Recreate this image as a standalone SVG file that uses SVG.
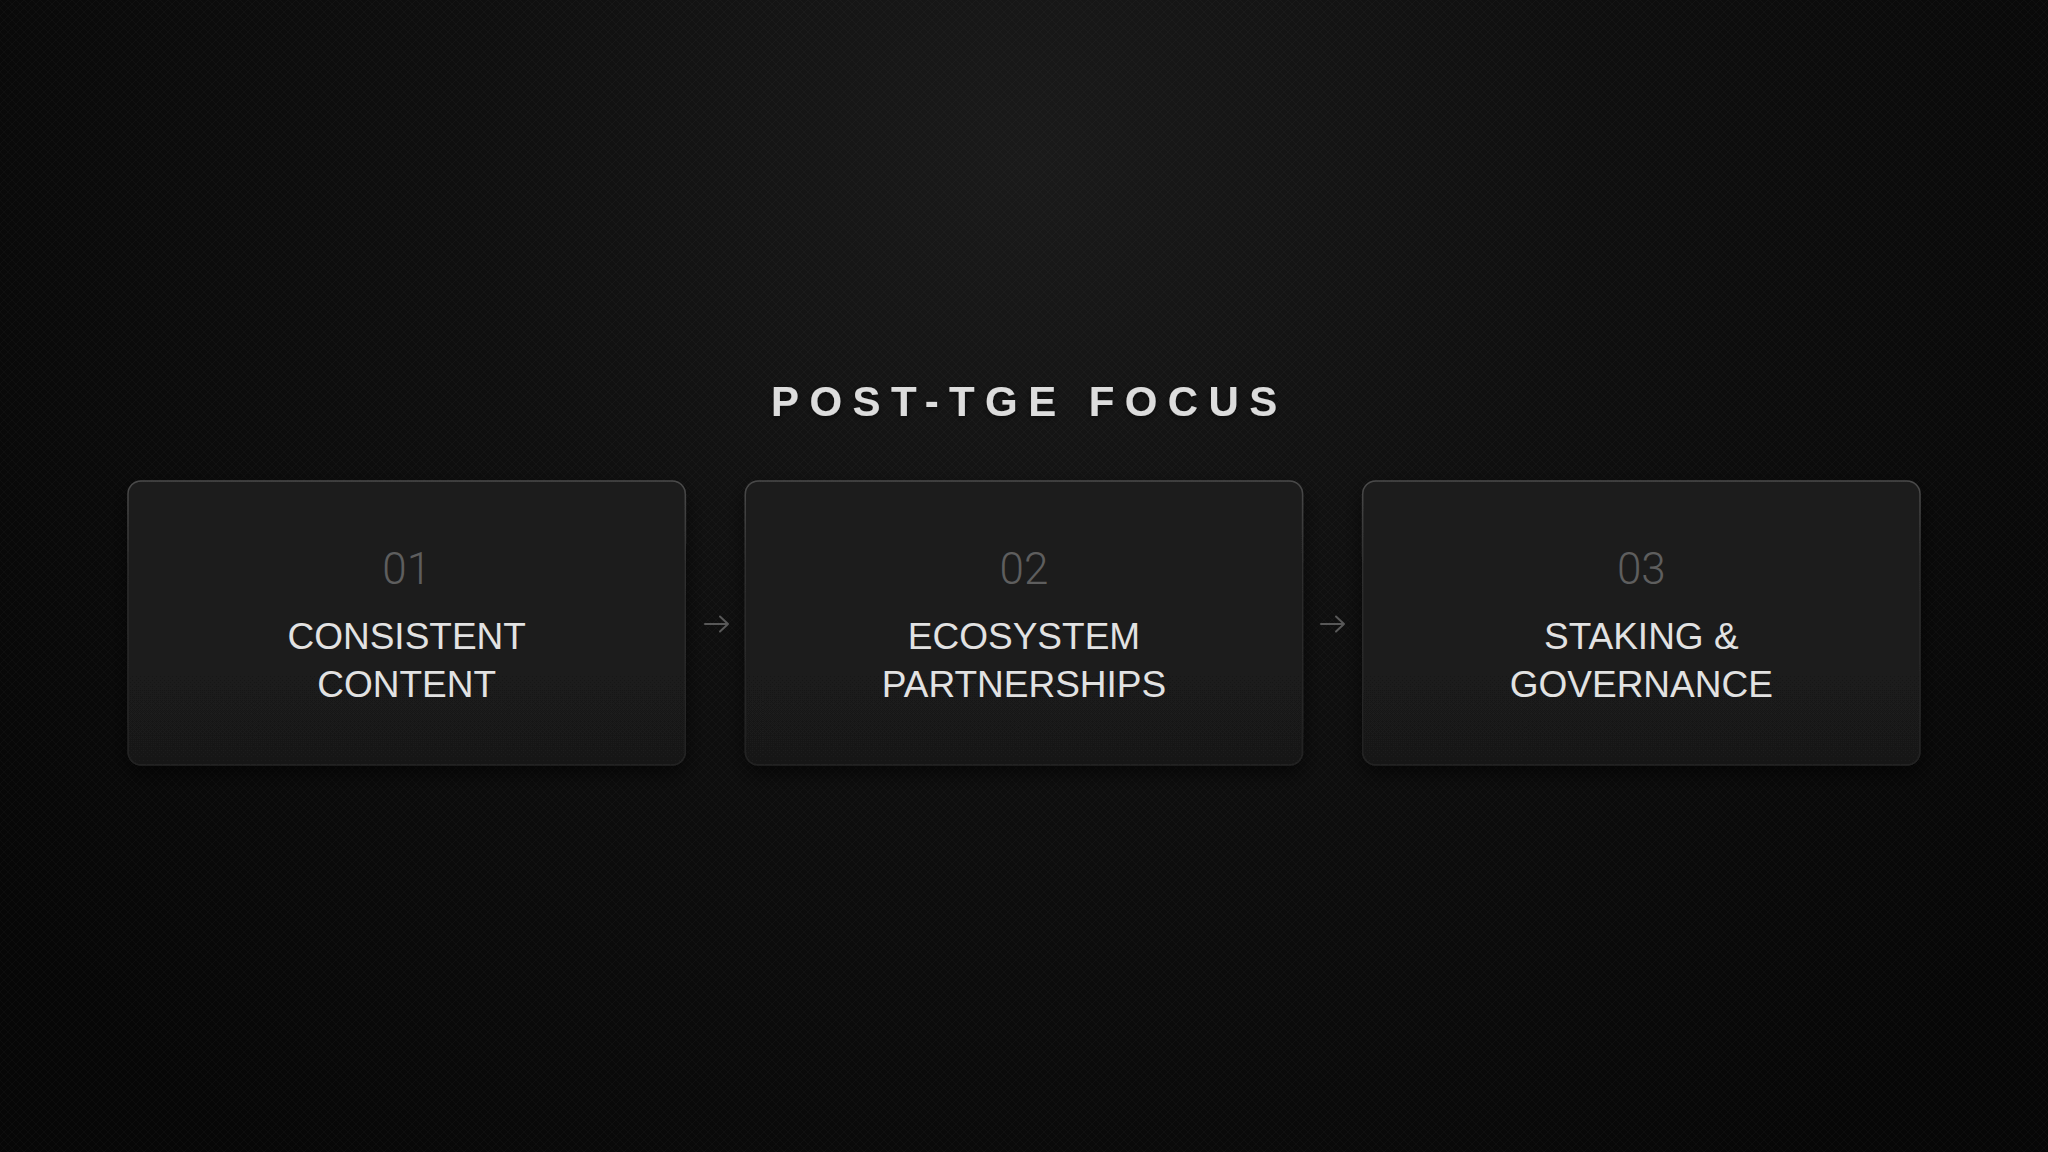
<svg xmlns="http://www.w3.org/2000/svg" width="2048" height="1152" viewBox="0 0 2048 1152">
  <defs>
    <radialGradient id="bg" cx="1024" cy="160" r="1250" gradientUnits="userSpaceOnUse">
      <stop offset="0" stop-color="#1a1a1a"/>
      <stop offset="0.45" stop-color="#0f0f0f"/>
      <stop offset="1" stop-color="#070707"/>
    </radialGradient>
    <pattern id="hatch" width="8" height="8" patternUnits="userSpaceOnUse">
      <path d="M0 0 L8 8 M8 0 L0 8" stroke="#ffffff" stroke-opacity="0.025" stroke-width="1"/>
    </pattern>
    <linearGradient id="cardFill" x1="0" y1="0" x2="0" y2="1">
      <stop offset="0" stop-color="#1c1c1c"/>
      <stop offset="1" stop-color="#191919"/>
    </linearGradient>
    <linearGradient id="cardStroke" x1="0" y1="0" x2="0" y2="1">
      <stop offset="0" stop-color="#4a4a4a"/>
      <stop offset="0.3" stop-color="#2e2e2e"/>
      <stop offset="1" stop-color="#222222"/>
    </linearGradient>
    <filter id="shadow" x="-10%" y="-10%" width="120%" height="130%">
      <feDropShadow dx="0" dy="8" stdDeviation="10" flood-color="#000000" flood-opacity="0.6"/>
    </filter>
    <filter id="glow" x="-5%" y="-30%" width="110%" height="160%">
      <feGaussianBlur in="SourceAlpha" stdDeviation="3"/>
      <feOffset dy="2"/>
      <feComponentTransfer><feFuncA type="linear" slope="0.6"/></feComponentTransfer>
      <feMerge><feMergeNode/><feMergeNode in="SourceGraphic"/></feMerge>
    </filter>
  </defs>
  <style>
    .card { fill: url(#cardFill); stroke: url(#cardStroke); stroke-width: 1.5; }
    .num { font-family: Roboto, "Liberation Sans", Arial, sans-serif; font-weight: 300; font-size: 44px; fill: #5e5e5e; text-anchor: middle; }
    .label { font-family: "Liberation Sans", Arial, sans-serif; font-size: 37px; fill: #e2e2e2; text-anchor: middle; }
    .title { font-family: "Liberation Sans", Arial, sans-serif; font-weight: bold; font-size: 42px; letter-spacing: 10.4px; fill: #dcdcdc; }
    .arrow { fill: none; stroke: #585858; stroke-width: 2; stroke-linecap: round; stroke-linejoin: round; }
  </style>

  <rect width="2048" height="1152" fill="url(#bg)"/>
  <rect width="2048" height="1152" fill="url(#hatch)"/>

  <text class="title" x="771" y="416" filter="url(#glow)">POST-TGE FOCUS</text>

  <g id="node1">
    <rect class="card" x="128" y="481" width="557.3" height="284" rx="13" filter="url(#shadow)"/>
    <text class="num" x="406.7" y="584">01</text>
    <text class="label" x="406.7" y="649">CONSISTENT</text>
    <text class="label" x="406.7" y="696.5">CONTENT</text>
  </g>

  <g id="node2">
    <rect class="card" x="745.3" y="481" width="557.3" height="284" rx="13" filter="url(#shadow)"/>
    <text class="num" x="1024" y="584">02</text>
    <text class="label" x="1024" y="649">ECOSYSTEM</text>
    <text class="label" x="1024" y="696.5">PARTNERSHIPS</text>
  </g>

  <g id="node3">
    <rect class="card" x="1362.7" y="481" width="557.3" height="284" rx="13" filter="url(#shadow)"/>
    <text class="num" x="1641.3" y="584">03</text>
    <text class="label" x="1641.3" y="649">STAKING &amp;</text>
    <text class="label" x="1641.3" y="696.5">GOVERNANCE</text>
  </g>

  <g id="connectors">
    <path class="arrow" d="M705 624 H728 M720 616.5 L728 624 L720 631.5"/>
    <path class="arrow" d="M1321 624 H1344 M1336 616.5 L1344 624 L1336 631.5"/>
  </g>
</svg>
